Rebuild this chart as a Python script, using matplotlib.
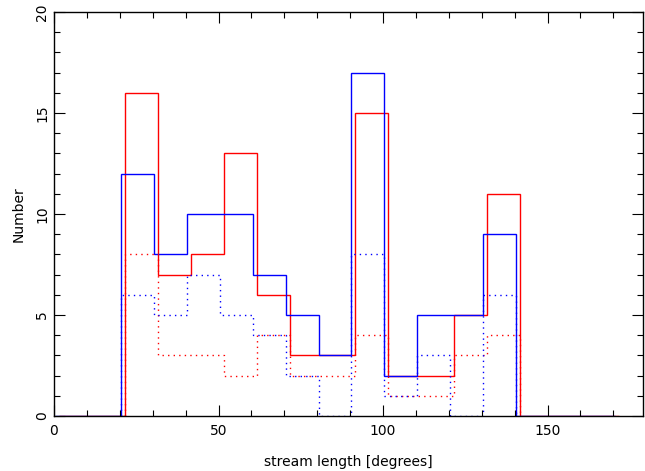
import numpy as np
import matplotlib
matplotlib.use('Agg')
import matplotlib.pyplot as plt
from matplotlib.ticker import MultipleLocator

# bin edges (degrees) for the two samples
blue_edges = [0.4, 10.4, 20.4, 30.4, 40.4, 50.4, 60.4, 70.4, 80.4, 90.4,
              100.4, 110.4, 120.4, 130.4, 140.4, 150.4, 160.4, 170.4]
red_edges = [1.6, 11.6, 21.6, 31.6, 41.6, 51.6, 61.6, 71.6, 81.6, 91.6,
             101.6, 111.6, 121.6, 131.6, 141.6, 151.6, 161.6, 171.6]

# counts per bin
blue_all = [0, 0, 12, 8, 10, 10, 7, 5, 3, 17, 2, 5, 5, 9, 0, 0, 0]
red_all = [0, 0, 16, 7, 8, 13, 6, 3, 3, 15, 2, 2, 5, 11, 0, 0, 0]
blue_sub = [6, 5, 7, 5, 4, 2, 0, 8, 1, 3, 0, 6]
red_sub = [8, 3, 3, 2, 4, 2, 2, 4, 1, 1, 3, 4]

fig = plt.figure(figsize=(6.45, 4.71), dpi=100)
ax = fig.add_axes([54 / 645, 55 / 471, 589 / 645, 404 / 471])

ax.stairs(red_all, red_edges, color='red', lw=1.0)
ax.stairs(blue_all, blue_edges, color='blue', lw=1.0)
ax.stairs(red_sub, red_edges[2:15], color='red', lw=1.0, ls=(0, (1, 3)))
ax.stairs(blue_sub, blue_edges[2:15], color='blue', lw=1.0, ls=(0, (1, 3)))

ax.set_xlim(0, 179)
ax.set_ylim(0, 20)
ax.xaxis.set_major_locator(MultipleLocator(50))
ax.xaxis.set_minor_locator(MultipleLocator(10))
ax.yaxis.set_major_locator(MultipleLocator(5))
ax.yaxis.set_minor_locator(MultipleLocator(1))
ax.tick_params(which='both', direction='in', top=True, right=True,
               labelsize=10, width=0.8)
ax.tick_params(which='major', length=8)
ax.tick_params(which='minor', length=4)
ax.tick_params(axis='x', pad=6)
for lab in ax.get_yticklabels():
    lab.set_rotation(90)
    lab.set_va('center')
for sp in ax.spines.values():
    sp.set_linewidth(1.0)

ax.set_xlabel('stream length [degrees]', fontsize=10, labelpad=12)
ax.set_ylabel('Number', fontsize=10, labelpad=7)

fig.savefig('out.png', dpi=100)
